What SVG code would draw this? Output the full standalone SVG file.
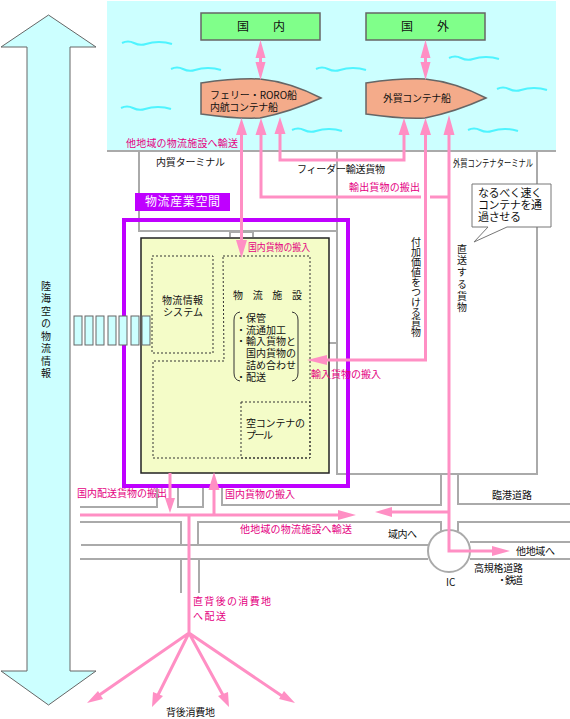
<svg xmlns="http://www.w3.org/2000/svg" width="570" height="719" viewBox="0 0 570 719">
<style>
text{font-family:"Noto Sans CJK JP","Liberation Sans",sans-serif;font-size:10px;fill:#111}
.p{fill:#e4007f}
.g{fill:none;stroke:#aaa;stroke-width:2}
.k{fill:none;stroke:#ff8fc4;stroke-width:3}
.h{fill:#ff8fc4}
.d{fill:none;stroke:#333;stroke-width:1;stroke-dasharray:2 2}
.w{fill:none;stroke:#4ff4ff;stroke-width:2}
.bx{fill:#80ff8a;stroke:#666;stroke-width:1.5}
.bt{fill:#f4ab8a;stroke:#666;stroke-width:1.5}
.s{fill:#ccffff;stroke:#666;stroke-width:1}
.v{writing-mode:vertical-rl}
</style>
<defs>
<path id="wv" d="M0,0q6,-3 12,0t12,1 13,-2 13,2" class="w"/>
</defs>
<rect id="sea" x="107" y="1" width="449" height="150" fill="#ccffff"/>
<g id="waves">
<use href="#wv" x="122" y="43"/><use href="#wv" x="171" y="69"/><use href="#wv" x="316" y="69"/><use href="#wv" x="449" y="58"/><use href="#wv" x="497" y="89"/><use href="#wv" x="121" y="108"/><use href="#wv" x="292" y="130"/><use href="#wv" x="468" y="130"/>
</g>
<g id="info-arrow"><path class="s" d="M48.500,15L96,47H70V671H96L48.500,705L1,671H27V47H1Z" stroke-width="1.2"/>
<text class="v" x="46" y="281" style="letter-spacing:2.500px">陸海空の物流情報</text></g>
<g id="roads">
<path class="g" d="M107,151H556M139,151V231H337M337,151V474H537V151M230,237V232H253V237M329,343H337"/>
<path class="g" d="M80,507H157V487M178,487V507H203V487M222,487V505H441V475M458,475V504H570M570,522H458V531M80,522H181V544M198,544V522H441V531M81,545H428M80,559H428M181,559V593M199,559V593M470,542H570M470,559H570"/>
<circle class="g" cx="449" cy="551" r="21"/>
</g>
<g id="area">
<rect x="124" y="220" width="224" height="266" fill="none" stroke="#bf00ff" stroke-width="4"/>
<rect x="135" y="193" width="95" height="18" fill="#bf00ff"/>
<text x="145" y="206" style="fill:#fff;font-size:12px" textLength="75">物流産業空間</text>
</g>
<g id="yard">
<rect x="141" y="238" width="188" height="235" fill="#f4fcc8" stroke="#222" stroke-width="1.500"/>
<rect class="d" x="152" y="256" width="61" height="97"/>
<path class="d" d="M223,256H310V458H153V361H224Z"/>
<rect class="d" x="241" y="402" width="69" height="56"/>
<text x="162" y="304" textLength="41">物流情報</text>
<text x="163" y="316" textLength="40">システム</text>
<text x="233" y="299" textLength="69">物 流 施 設</text>
<path d="M240,312Q234,313 234,320V373Q234,380 240,381M292,312Q298,313 298,320V373Q298,380 292,381" fill="none" stroke="#333"/>
<text x="236" y="322">・保管</text>
<text x="236" y="334">・流通加工</text>
<text x="236" y="345">・輸入貨物と</text>
<text x="246" y="357">国内貨物の</text>
<text x="246" y="369">詰め合わせ</text>
<text x="236" y="381">・配送</text>
<text x="246" y="427" textLength="59">空コンテナの</text>
<text x="246" y="439" textLength="27">プール</text>
</g>
<g id="gate">
<rect class="s" x="74" y="316" width="8" height="29"/><rect class="s" x="85" y="316" width="8" height="29"/><rect class="s" x="96" y="316" width="8" height="29"/><rect class="s" x="108" y="316" width="8" height="29"/><rect class="s" x="119" y="316" width="8" height="29"/><rect class="s" x="131" y="316" width="8" height="29"/><rect class="s" x="142" y="316" width="8" height="29"/>
</g>
<g id="domestic"><rect class="bx" x="201" y="13" width="119" height="27"/><text x="237" y="31" style="font-size:12px" textLength="48">国　内</text></g>
<g id="overseas"><rect class="bx" x="366" y="13" width="119" height="27"/><text x="401" y="31" style="font-size:12px" textLength="48">国　外</text></g>
<g id="ship1"><path class="bt" d="M201,83Q235,78 260,79Q290,82 321,98Q290,112 260,118Q235,119 201,114Z"/>
<text x="210" y="99" textLength="87">フェリー・RORO船</text><text x="210" y="111" textLength="68">内航コンテナ船</text></g>
<g id="ship2"><path class="bt" d="M366,83Q400,78 425,79Q455,82 486,98Q455,112 425,118Q400,119 366,114Z"/>
<text x="383" y="102" textLength="68">外貿コンテナ船</text></g>
<g id="connectors">
<path class="k" d="M260.500,50V70M425.500,50V70M241.500,130V245M261,130V197H421M430,197H449M280,130V160H404V130M425.500,130V360H320M449,130V551H495M449,512H388M80,515H345M170,473V500M214,485V515M189,515V633L95,698M189,633L157,697M189,633L224,697M189,633L285,698"/>
<path class="h" d="M260.500,40L265.500,58H255.500ZM260.500,80L265.500,62H255.500ZM425.500,40L430.500,58H420.500ZM425.500,80L430.500,62H420.500ZM241.500,118L247,135H236ZM261,118L266.500,135H255.500ZM280,117L285.500,134H274.500ZM404,118L409.500,135H398.500ZM425.500,118L431,135H420ZM449,115L454.500,135H443.500ZM241.500,258L236,240H247ZM307,360L327,355V365ZM510,551L492,546V556ZM375,512L392,507V517ZM356,515L338,510V520ZM170,513L165,498H175ZM214,472L219.500,490H208.500ZM87,703L98,691L103,699ZM152,707L153,692L163,696ZM229,707L218,696L228,692ZM295,703L279,699L284,691Z"/>
</g>
<g id="callout"><path d="M488,227L474,242L507,227H551V184H472V227Z" fill="#fff" stroke="#777"/>
<text x="478" y="197" style="font-size:11px" textLength="64">なるべく速く</text><text x="478" y="209" style="font-size:11px" textLength="64">コンテナを通</text><text x="478" y="221" style="font-size:11px" textLength="43">過させる</text></g>
<g id="labels">
<text class="p" x="126" y="147" textLength="112">他地域の物流施設へ輸送</text>
<text x="156" y="166" textLength="69">内貿ターミナル</text>
<text x="297" y="173" textLength="88">フィーダー輸送貨物</text>
<text x="453" y="167" textLength="80" lengthAdjust="spacingAndGlyphs">外貿コンテナターミナル</text>
<text class="p" x="349" y="191" textLength="71">輸出貨物の搬出</text>
<text class="p" x="248" y="251" textLength="62" lengthAdjust="spacingAndGlyphs">国内貨物の搬入</text>
<text class="p" x="311" y="378" textLength="70">輸入貨物の搬入</text>
<text class="p" x="77" y="497" textLength="90">国内配送貨物の搬出</text>
<text class="p" x="225" y="498" textLength="70">国内貨物の搬入</text>
<text class="p" x="240" y="533" textLength="112">他地域の物流施設へ輸送</text>
<text class="p" x="193" y="605" textLength="78">直背後の消費地</text>
<text class="p" x="193" y="620" textLength="33">へ配送</text>
<text x="388" y="538" textLength="29">域内へ</text>
<text x="492" y="499" textLength="40">臨港道路</text>
<text x="516" y="555" textLength="39">他地域へ</text>
<text x="474" y="572" textLength="49">高規格道路</text>
<text x="497" y="584" textLength="26">・鉄道</text>
<text x="446" y="586">IC</text>
<text x="166" y="716" textLength="49">背後消費地</text>
<text class="v" x="416" y="237">付加価値をつける貨物</text>
<text class="v" x="462" y="244" style="letter-spacing:1.700px">直送する貨物</text>
</g>
</svg>
